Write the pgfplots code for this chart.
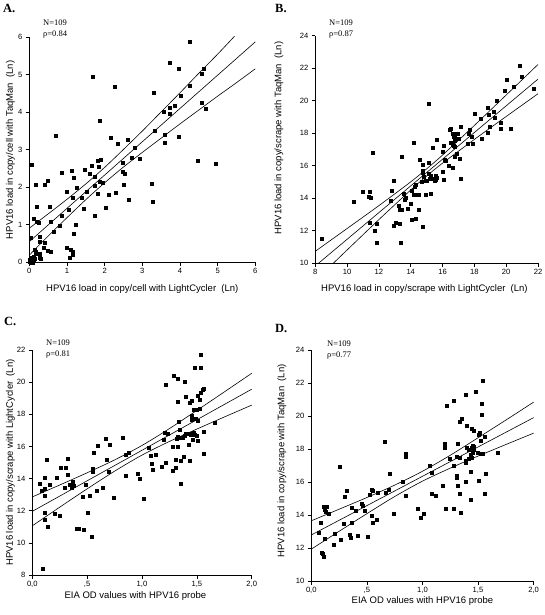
\documentclass[border=0pt]{standalone}
\usepackage{fontspec}
\setmainfont{Liberation Sans}
\newfontfamily\seriffont{Liberation Serif}
\usepackage{pgfplots}
\pgfplotsset{compat=1.18}
\pgfplotsset{
  panel/.style={
    scale only axis,
    axis lines=left,
    axis line style={-, line width=0.7pt},
    tick align=outside,
    major tick length=3.5pt,
    tick style={line width=0.6pt, black},
    ticklabel style={font=\fontsize{7.6}{9}\selectfont},
    xticklabel style={yshift=1pt},
    /pgf/number format/assume math mode=true,
    clip=false,
    anchor=south west,
  },
  pts/.style={only marks, mark=square*, mark size=1.5pt, black},
  fit/.style={black, line width=0.6pt, no marks, smooth},
}
\newcommand{\lab}{\fontsize{9.5}{11}\selectfont}
\begin{document}
\begin{tikzpicture}[x=1pt,y=1pt]
\useasboundingbox (0,0) rectangle (544,615);
% ---------------- A
\begin{axis}[panel, at={(29.3pt,352.7pt)}, width=226pt, height=225pt,
  xmin=0, xmax=6, ymin=0, ymax=6, xtick={0,...,6}, ytick={0,...,6},
  every axis x label/.style={at={(axis description cs:0.5,-0.12)}, anchor=center, font=\lab},
  every axis y label/.style={at={(axis description cs:-0.084,0.5)}, anchor=center, rotate=90, font=\lab},
  xlabel={HPV16 load in copy/cell with LightCycler\ \ (Ln)},
  ylabel={HPV16 load in copy/cell with TaqMan\ \ (Ln)}]
\addplot[pts] table {
4.27 5.88
3.72 5.32
3.96 5.16
1.67 4.96
2.28 4.67
3.30 4.51
4.64 5.17
4.57 5.03
4.25 4.71
4.01 4.44
3.58 4.02
3.73 4.12
3.86 4.17
3.72 3.95
4.59 4.26
4.67 4.10
1.88 3.77
0.70 3.37
2.15 3.33
2.34 3.15
2.62 3.27
3.32 3.50
3.59 3.40
3.59 3.19
3.96 3.36
2.81 3.06
2.93 2.75
2.73 2.79
4.46 2.70
4.96 2.64
0.07 2.61
1.81 2.70
1.90 2.73
1.66 2.58
1.85 2.54
1.48 2.47
1.61 2.37
0.87 2.40
1.12 2.43
2.47 2.66
2.47 2.41
2.54 2.37
0.48 2.18
0.40 2.08
0.18 2.07
1.74 2.29
1.88 2.15
1.95 2.12
1.74 2.03
1.19 2.26
1.25 1.99
0.98 1.87
1.53 1.88
1.82 1.84
2.10 1.81
2.29 1.86
2.50 2.07
1.14 1.73
1.38 1.73
2.65 1.68
3.27 1.61
3.24 2.10
0.19 1.48
0.55 1.48
2.04 1.45
1.44 1.42
1.04 1.41
0.87 1.25
1.73 1.24
0.12 1.17
0.19 1.08
0.25 1.06
0.57 1.09
0.82 0.97
1.24 0.99
0.65 0.82
1.17 0.75
0.04 0.66
0.28 0.67
0.28 0.55
0.40 0.53
0.37 0.40
0.50 0.31
0.56 0.27
0.14 0.33
0.16 0.27
0.17 0.22
0.28 0.24
0.27 0.12
1.00 0.39
1.11 0.33
1.15 0.28
1.06 0.13
1.15 0.19
0.02 0.02
0.05 0.06
0.08 0.03
0.11 0.08
0.04 0.10
0.10 0.00
0.13 0.04
0.07 0.12
0.01 0.07
0.14 0.10
0.06 0.00
0.12 0.14
0.09 0.05
0.29 0.10
};
\addplot[fit] coordinates {(0,0.91)(0.5,1.29)(1,1.68)(1.5,2.09)(2,2.53)(2.5,3.01)(3,3.50)(3.5,4.01)(4,4.52)(4.5,5.04)(5,5.55)(5.45,6.03)};
\addplot[fit] coordinates {(0,0.55)(6,5.878)};
\addplot[fit] coordinates {(0,0.19)(0.5,0.70)(1,1.19)(1.5,1.67)(2,2.12)(2.5,2.54)(3,2.93)(3.5,3.31)(4,3.69)(4.5,4.06)(5,4.43)(5.5,4.79)(6,5.16)};
\end{axis}
% ---------------- B
\begin{axis}[panel, at={(315.3pt,351.7pt)}, width=222.7pt, height=227.6pt,
  xmin=8, xmax=22, ymin=10, ymax=24, xtick={8,10,...,22}, ytick={10,12,...,24},
  every axis x label/.style={at={(axis description cs:0.49,-0.113)}, anchor=center, font=\lab},
  every axis y label/.style={at={(axis description cs:-0.163,0.55)}, anchor=center, rotate=90, font=\lab},
  xlabel={HPV16 load in copy/scrape with LightCycler\ \ (Ln)},
  ylabel={HPV16 load in copy/scrape with TaqMan\ \ (Ln)}]
\addplot[pts] table {
8.38 11.50
10.41 13.79
10.98 14.41
11.40 14.43
11.36 14.10
11.46 14.06
11.44 12.52
11.63 16.83
11.74 12.01
11.84 12.44
11.84 11.27
12.93 12.34
13.04 12.52
12.93 15.08
12.83 14.47
12.77 13.87
13.33 12.42
13.25 13.55
13.29 13.30
13.42 13.30
13.37 11.29
13.46 16.56
13.54 14.30
13.63 13.89
13.71 14.04
13.79 13.36
14.02 13.69
14.07 14.45
14.23 14.73
14.32 14.82
14.19 17.42
14.19 14.20
14.27 14.22
14.47 14.24
14.09 12.66
14.30 12.75
14.47 13.30
14.72 12.23
14.57 16.39
14.74 16.07
14.72 15.70
14.78 15.57
14.82 15.33
14.67 15.04
14.93 15.08
15.01 15.06
14.95 14.22
15.24 14.28
15.14 16.19
15.10 19.80
15.14 15.53
15.30 15.23
15.18 15.23
15.26 15.39
15.41 17.13
15.56 15.41
15.56 15.12
15.49 15.06
15.62 17.60
15.62 15.29
15.98 16.89
16.02 15.64
16.04 15.16
16.10 17.24
16.12 16.39
16.19 16.31
16.40 15.98
16.61 15.86
16.46 18.22
16.52 18.28
16.52 17.40
16.63 17.32
16.73 17.26
16.61 17.99
16.67 17.77
16.77 17.89
16.88 17.99
16.77 17.52
16.88 17.67
16.94 17.95
17.03 17.67
16.77 17.17
16.88 16.76
17.05 16.41
16.77 16.54
17.11 18.38
17.15 15.19
17.57 17.34
17.68 18.20
17.63 17.95
17.82 17.79
17.89 17.38
18.01 19.18
18.39 18.87
18.45 17.67
18.81 19.57
18.83 18.05
18.87 19.12
18.96 18.42
19.21 19.33
19.25 18.98
19.40 20.02
19.63 18.63
19.88 20.60
20.05 21.27
19.63 18.26
20.30 18.26
20.47 20.84
20.85 22.13
20.97 21.48
21.71 20.72
};
\addplot[fit] coordinates {(8,10.74)(10,12.14)(12,13.55)(14,15.01)(15,15.81)(16,16.66)(18,18.48)(20,20.35)(22,22.23)};
\addplot[fit] coordinates {(8.2,10.0)(22,21.33)};
\addplot[fit] coordinates {(9.13,10.0)(10,10.82)(12,12.69)(14,14.51)(15,15.37)(16,16.16)(18,17.62)(20,19.03)(22,20.43)};
\end{axis}
% ---------------- C
\begin{axis}[panel, at={(32.3pt,40pt)}, width=219.4pt, height=225pt,
  xmin=0, xmax=2, ymin=8, ymax=22, xtick={0,0.5,1,1.5,2},
  xticklabels={{0,0},{,5},{1,0},{1,5},{2,0}}, ytick={8,10,...,22},
  every axis x label/.style={at={(axis description cs:0.47,-0.092)}, anchor=center, font=\lab},
  every axis y label/.style={at={(axis description cs:-0.10,0.5)}, anchor=center, rotate=90, font=\lab},
  xlabel={EIA OD values with HPV16 probe},
  ylabel={HPV16 load in copy/scrape with LightCycler\ \ (Ln)}]
\addplot[pts] table {
0.091 8.39
0.070 13.68
0.082 13.25
0.109 13.35
0.112 14.04
0.116 12.94
0.116 11.90
0.112 11.42
0.140 10.99
0.131 15.20
0.161 13.62
0.200 11.82
0.219 14.08
0.252 11.67
0.255 14.70
0.292 13.43
0.307 14.70
0.322 15.24
0.325 14.24
0.343 13.64
0.356 13.43
0.368 13.79
0.374 13.54
0.401 10.88
0.422 10.88
0.462 12.87
0.468 10.84
0.489 13.64
0.508 11.90
0.526 12.94
0.541 10.41
0.550 14.45
0.553 14.64
0.559 15.61
0.590 13.23
0.596 16.03
0.638 13.43
0.666 16.50
0.678 15.18
0.699 14.41
0.705 16.13
0.739 12.81
0.827 16.55
0.848 15.49
0.875 15.59
0.854 14.18
0.957 14.28
0.982 14.00
1.012 12.73
1.064 15.94
1.082 15.43
1.091 14.95
1.094 14.55
1.122 15.51
1.176 14.74
1.198 16.40
1.204 16.88
1.216 14.97
1.219 19.86
1.237 16.77
1.277 15.99
1.277 14.47
1.286 20.40
1.304 14.70
1.304 15.16
1.316 16.46
1.322 20.22
1.328 18.77
1.322 15.99
1.328 16.63
1.334 17.56
1.340 16.55
1.343 17.06
1.353 15.11
1.353 13.66
1.374 16.57
1.383 15.36
1.386 16.69
1.392 20.01
1.395 19.12
1.398 16.82
1.407 16.82
1.429 16.11
1.432 16.82
1.435 18.72
1.438 15.14
1.441 16.73
1.450 17.91
1.453 18.85
1.456 17.69
1.465 16.73
1.471 16.86
1.465 16.42
1.468 18.29
1.477 20.92
1.483 16.73
1.489 17.73
1.498 18.31
1.498 16.69
1.505 19.16
1.508 17.58
1.511 16.38
1.523 18.89
1.529 18.33
1.538 21.69
1.538 20.88
1.538 19.37
1.550 19.51
1.559 15.57
1.565 16.92
1.663 17.50
1.562 19.60
};
\addplot[fit] coordinates {(0,12.86)(0.25,13.60)(0.5,14.36)(0.75,15.16)(1,16.06)(1.25,17.11)(1.5,18.24)(1.75,19.39)(2,20.55)};
\addplot[fit] coordinates {(0,11.96)(2,19.56)};
\addplot[fit] coordinates {(0,11.06)(0.25,12.22)(0.5,13.36)(0.75,14.46)(1,15.46)(1.25,16.31)(1.5,17.08)(1.75,17.83)(2,18.57)};
\end{axis}
% ---------------- D
\begin{axis}[panel, at={(311.3pt,34pt)}, width=222.3pt, height=231pt,
  xmin=0, xmax=2, ymin=10, ymax=24, xtick={0,0.5,1,1.5,2},
  xticklabels={{0,0},{,5},{1,0},{1,5},{2,0}}, ytick={10,12,...,24},
  every axis x label/.style={at={(axis description cs:0.50,-0.088)}, anchor=center, font=\lab},
  every axis y label/.style={at={(axis description cs:-0.132,0.52)}, anchor=center, rotate=90, font=\lab},
  xlabel={EIA OD values with HPV16 probe},
  ylabel={HPV16 load in copy/scrape with TaqMan\ \ (Ln)}]
\addplot[pts] table {
0.069 12.90
0.087 13.54
0.090 11.72
0.105 11.64
0.110 11.47
0.117 12.59
0.110 14.50
0.140 14.50
0.120 14.32
0.130 14.18
0.159 14.10
0.213 12.85
0.201 12.18
0.255 16.93
0.261 12.48
0.291 13.50
0.303 15.09
0.321 15.49
0.345 12.79
0.351 12.65
0.366 14.46
0.366 13.54
0.402 14.24
0.420 12.73
0.456 14.67
0.465 14.57
0.480 14.24
0.507 12.67
0.525 15.25
0.543 15.56
0.552 15.45
0.540 13.96
0.549 13.54
0.585 13.74
0.594 15.33
0.663 18.44
0.669 15.35
0.693 15.54
0.702 16.53
0.738 14.06
0.825 16.02
0.846 17.54
0.852 17.74
0.849 15.19
0.954 14.36
0.981 13.86
1.010 14.10
1.064 17.01
1.079 16.55
1.538 22.14
1.479 21.50
1.390 21.32
1.283 20.91
1.214 20.62
1.536 20.77
1.536 20.06
1.349 19.86
1.331 19.66
1.394 19.39
1.445 19.25
1.457 19.13
1.511 19.01
1.502 18.85
1.559 18.73
1.523 18.53
1.197 18.30
1.197 18.08
1.317 18.30
1.400 18.05
1.420 17.98
1.440 18.05
1.460 18.12
1.450 18.18
1.465 17.95
1.500 17.80
1.523 17.74
1.538 17.72
1.433 17.68
1.450 17.80
1.310 17.53
1.331 17.50
1.242 17.39
1.392 17.27
1.420 17.39
1.442 17.47
1.389 17.15
1.278 16.99
1.676 17.80
1.569 16.50
1.433 16.65
1.307 16.38
1.307 16.24
1.313 15.78
1.178 15.80
1.389 16.02
1.505 16.10
1.331 15.31
1.556 15.31
1.085 15.27
1.119 15.17
1.436 14.91
1.208 14.41
1.278 14.41
1.347 14.16
};
\addplot[fit] coordinates {(0,13.65)(0.25,14.35)(0.5,15.06)(0.75,15.81)(1,16.65)(1.25,17.62)(1.5,18.68)(1.75,19.75)(2,20.84)};
\addplot[fit] coordinates {(0,12.79)(2,19.90)};
\addplot[fit] coordinates {(0,11.93)(0.25,13.01)(0.5,14.08)(0.75,15.12)(1,16.05)(1.25,16.84)(1.5,17.57)(1.75,18.27)(2,18.96)};
\end{axis}
% ---------------- annotations
\begin{scope}[every node/.style={anchor=base west, inner sep=0pt}]
\node[font=\seriffont\bfseries\fontsize{12.5}{14}\selectfont] at (3,602) {A.};
\node[font=\seriffont\bfseries\fontsize{12.5}{14}\selectfont] at (275,602) {B.};
\node[font=\seriffont\bfseries\fontsize{12.5}{14}\selectfont] at (4,289) {C.};
\node[font=\seriffont\bfseries\fontsize{12.5}{14}\selectfont] at (275,282) {D.};
\node[font=\seriffont\fontsize{8.5}{10}\selectfont] at (43,589) {N=109};
\node[font=\seriffont\fontsize{8.5}{10}\selectfont] at (43,578) {ρ=0.84};
\node[font=\seriffont\fontsize{8.5}{10}\selectfont] at (329,589) {N=109};
\node[font=\seriffont\fontsize{8.5}{10}\selectfont] at (329,578) {ρ=0.87};
\node[font=\seriffont\fontsize{8.5}{10}\selectfont] at (46,269) {N=109};
\node[font=\seriffont\fontsize{8.5}{10}\selectfont] at (46,258) {ρ=0.81};
\node[font=\seriffont\fontsize{8.5}{10}\selectfont] at (327,268) {N=109};
\node[font=\seriffont\fontsize{8.5}{10}\selectfont] at (327,257) {ρ=0.77};
\end{scope}
\end{tikzpicture}
\end{document}
